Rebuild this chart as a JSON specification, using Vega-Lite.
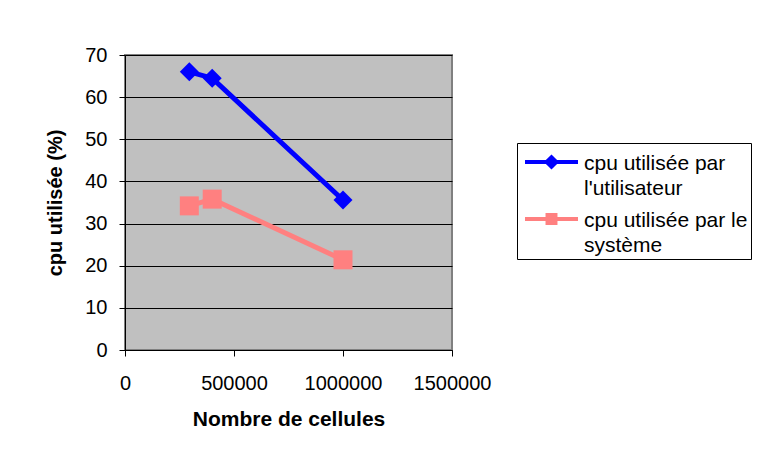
{
  "$schema": "https://vega.github.io/schema/vega-lite/v6.json",
  "width": 327,
  "height": 295,
  "autosize": {"type": "none"},
  "padding": {"left": 125, "top": 55, "right": 320, "bottom": 122},
  "background": "white",
  "config": {
    "font": "Liberation Sans",
    "view": {"fill": "#C0C0C0", "stroke": "#808080", "strokeWidth": 2},
    "axis": {
      "labelFont": "Liberation Sans", "labelFontSize": 20, "labelColor": "black",
      "titleFont": "Liberation Sans", "titleFontSize": 20, "titleFontWeight": "bold", "titleColor": "black",
      "domainColor": "black", "tickColor": "black", "tickSize": 6, "domainWidth": 1, "tickWidth": 1
    }
  },
  "data": {
    "values": [
      {"serie": "cpu utilisée par l'utilisateur", "cellules": 295000, "cpu": 66.0},
      {"serie": "cpu utilisée par l'utilisateur", "cellules": 400000, "cpu": 64.5},
      {"serie": "cpu utilisée par l'utilisateur", "cellules": 1000000, "cpu": 35.6},
      {"serie": "cpu utilisée par le système", "cellules": 295000, "cpu": 34.2},
      {"serie": "cpu utilisée par le système", "cellules": 400000, "cpu": 35.8},
      {"serie": "cpu utilisée par le système", "cellules": 1000000, "cpu": 21.4}
    ]
  },
  "encoding": {
    "x": {
      "field": "cellules", "type": "quantitative",
      "scale": {"domain": [0, 1500000], "nice": false, "zero": false},
      "axis": {"title": "Nombre de cellules", "titleFontSize": 21, "values": [0, 500000, 1000000, 1500000], "format": "d", "grid": false, "labelFlush": false, "labelOverlap": false, "labelPadding": 17, "titlePadding": 15}
    },
    "y": {
      "field": "cpu", "type": "quantitative",
      "scale": {"domain": [0, 70], "nice": false},
      "axis": {"title": "cpu utilisée (%)", "values": [0, 10, 20, 30, 40, 50, 60, 70], "grid": true, "gridColor": "black", "gridOpacity": 1, "gridWidth": 1, "labelPadding": 12, "titlePadding": 19}
    }
  },
  "layer": [
    {
      "mark": {"type": "line", "strokeWidth": 5},
      "encoding": {
        "color": {
          "field": "serie", "type": "nominal",
          "scale": {"domain": ["cpu utilisée par l'utilisateur", "cpu utilisée par le système"], "range": ["#0000FF", "#FF8080"]},
          "legend": {
            "title": null, "orient": "none", "legendX": 392, "legendY": 88,
            "padding": 3, "strokeColor": "black", "fillColor": "white",
            "labelFont": "Liberation Sans", "labelFontSize": 21, "labelColor": "black", "labelLimit": 400,
            "symbolSize": 2809, "symbolStrokeWidth": 4, "labelOffset": 7, "rowPadding": 4,
            "labelBaseline": "middle",
            "labelExpr": "indexof(datum.label, 'système') >= 0 ? ['cpu utilisée par le ', 'système'] : ['cpu utilisée par', \"l'utilisateur\"]",
            "encode": {
              "symbols": {"update": {
                "shape": {"signal": "indexof(datum.value, 'système') >= 0 ? 'M-0.887,-0.472L1.113,-0.472M-0.037,-0.622L0.263,-0.622L0.263,-0.322L-0.037,-0.322Z' : 'M-0.887,-0.472L1.113,-0.472M-0.067,-0.472L0.113,-0.652L0.293,-0.472L0.113,-0.292Z'"},
                "fill": {"signal": "scale('color', datum.value)"},
                "stroke": {"signal": "scale('color', datum.value)"},
                "strokeWidth": {"value": 4},
                "fillOpacity": {"value": 1},
                "strokeOpacity": {"value": 1}
              }},
              "labels": {"update": {"lineHeight": {"value": 25}, "dy": {"value": -10.5}}}
            }
          }
        }
      }
    },
    {
      "transform": [{"filter": "indexof(datum.serie, 'système') < 0"}],
      "mark": {"type": "point", "filled": true, "shape": "diamond", "size": 361, "opacity": 1},
      "encoding": {
        "color": {"field": "serie", "type": "nominal", "legend": null}
      }
    },
    {
      "transform": [{"filter": "indexof(datum.serie, 'système') >= 0"}],
      "mark": {"type": "point", "filled": true, "shape": "square", "size": 361, "opacity": 1},
      "encoding": {
        "color": {"field": "serie", "type": "nominal", "legend": null}
      }
    }
  ]
}
